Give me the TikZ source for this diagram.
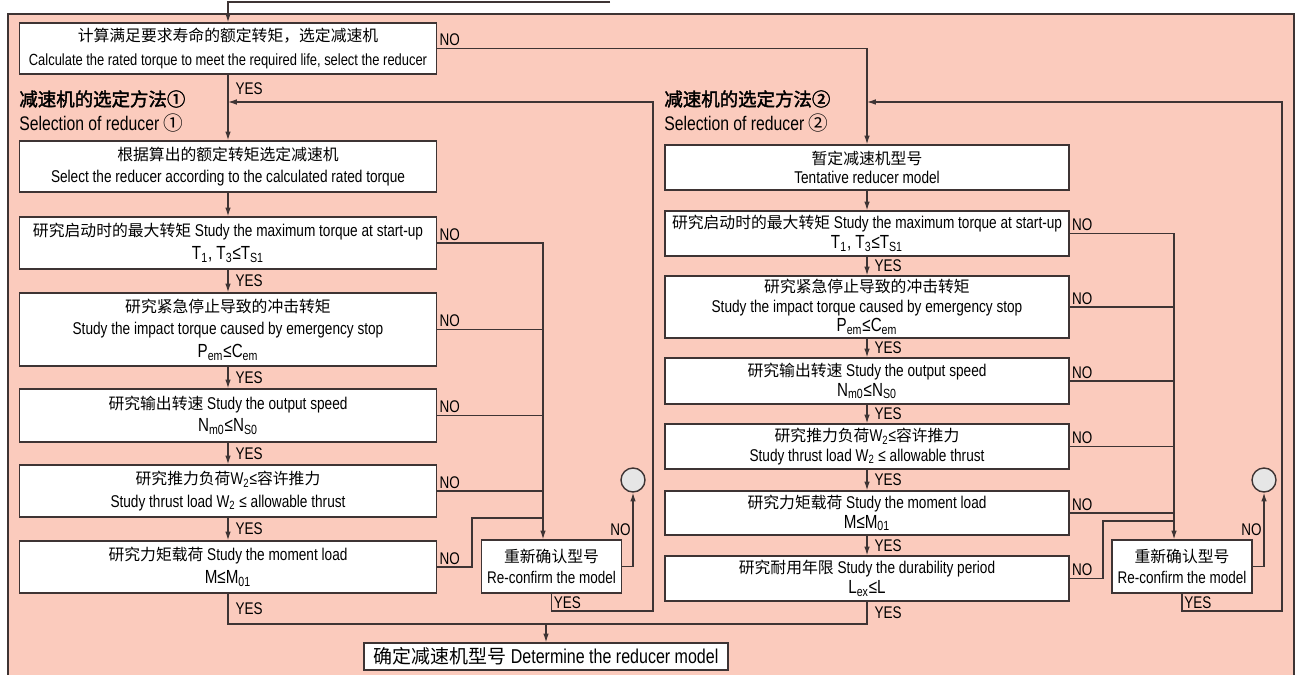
\documentclass[tikz,border=0pt]{standalone}
\usepackage{fontspec}
\setmainfont{Liberation Sans}[FakeStretch=0.8]
\newfontfamily\zhfont{Noto Sans CJK SC}
\newfontfamily\zhbold{Noto Sans CJK SC}[FakeBold=2]
\usetikzlibrary{arrows.meta}
\definecolor{bgpink}{RGB}{251,203,189}
\definecolor{linec}{RGB}{62,52,52}
\definecolor{dotgray}{RGB}{230,230,230}
\newcommand{\zh}[1]{{\zhfont\fontsize{9}{12}\selectfont #1}}
\newcommand{\fml}[1]{{\fontsize{10.8}{12}\selectfont #1}}

\begin{document}
\begin{tikzpicture}[x=0.02cm, y=-0.02cm, >={Latex[length=5pt,width=3.2pt]},
    every node/.style={text=black},
    lbox/.style={draw=linec, fill=white, line width=0.8pt, minimum width=8.34cm, align=center, inner sep=0pt, font=\fontsize{9.7}{12.8}\selectfont},
    rbox/.style={draw=linec, fill=white, line width=0.8pt, minimum width=8.08cm, align=center, inner sep=0pt, font=\fontsize{9.7}{11.2}\selectfont},
    chkbox/.style={draw=linec, fill=white, line width=0.8pt, minimum width=2.8cm, minimum height=1.06cm, align=center, inner sep=0pt, font=\fontsize{9.6}{11.5}\selectfont},
    yn/.style={font=\fontsize{9.6}{10}\selectfont, inner sep=1pt},
    flow/.style={draw=linec, line width=0.7pt}]
    \useasboundingbox (0,0) rectangle (1300,675);

    % frame
    \draw[linec, line width=0.8pt, fill=bgpink] (8,14) rectangle (1294,680);

    % first check
    \node[lbox, minimum height=1.02cm, font=\fontsize{9.2}{14}\selectfont] (l0) at (228,48.5) {\zh{计算满足要求寿命的额定转矩，选定减速机}\\Calculate the rated torque to meet the required life, select the reducer};
    \coordinate (top0) at (610,2);
    \draw[flow,->] (top0) -| (l0.north);

    % titles
    \node[anchor=west, inner sep=0pt, font=\fontsize{10.5}{13}\selectfont\zhbold] (t1) at (19,99) {减速机的选定方法①};
    \node[anchor=west, inner sep=0pt, font=\fontsize{11.2}{12}\selectfont] (s1) at (19,123) {Selection of reducer {\zhfont ①}};
    \node[anchor=west, inner sep=0pt, font=\fontsize{10.5}{13}\selectfont\zhbold] (t2) at (664,99) {减速机的选定方法②};
    \node[anchor=west, inner sep=0pt, font=\fontsize{11.2}{12}\selectfont] (s2) at (664,123) {Selection of reducer {\zhfont ②}};

    % Selection 1
    \node[lbox, minimum height=1.02cm] (l1) at (228,166.5) {\zh{根据算出的额定转矩选定减速机}\\Select the reducer according to the calculated rated torque};
    \node[lbox, minimum height=1.04cm] (l2) at (228,243) {\zh{研究启动时的最大转矩} Study the maximum torque at start-up\\\fml{T\textsubscript{1}, T\textsubscript{3}≤T\textsubscript{S1}}};
    \node[lbox, minimum height=1.46cm] (l3) at (228,329.5) {\zh{研究紧急停止导致的冲击转矩}\\Study the impact torque caused by emergency stop\\\fml{P\textsubscript{em}≤C\textsubscript{em}}};
    \node[lbox, minimum height=1.06cm] (l4) at (228,415.5) {\zh{研究输出转速} Study the output speed\\\fml{N\textsubscript{m0}≤N\textsubscript{S0}}};
    \node[lbox, minimum height=1.04cm] (l5) at (228,491) {\zh{研究推力负荷}W\textsubscript{2}≤\zh{容许推力}\\Study thrust load W\textsubscript{2} ≤ allowable thrust};
    \node[lbox, minimum height=1.04cm] (l6) at (228,567) {\zh{研究力矩载荷} Study the moment load\\\fml{M≤M\textsubscript{01}}};
    \node[chkbox] (lc) at (551.5,566.5) {\zh{重新确认型号}\\Re-confirm the model};
    \node[circle, draw=linec, line width=0.8pt, fill=dotgray, minimum size=0.48cm, inner sep=0pt] (lcirc) at (633,480) {};

    \draw[flow,->] (l0.south) -- node[yn, right=3pt, pos=0.21] (y0) {YES} (l1.north);
    \draw[flow,->] (l1.south) -- (l2.north);
    \draw[flow,->] (l2.south) -- node[yn, right=3pt] (y2) {YES} (l3.north);
    \draw[flow,->] (l3.south) -- node[yn, right=3pt] (y3) {YES} (l4.north);
    \draw[flow,->] (l4.south) -- node[yn, right=3pt] (y4) {YES} (l5.north);
    \draw[flow,->] (l5.south) -- node[yn, right=3pt] (y5) {YES} (l6.north);

    % NO to re-confirm
    \coordinate (lbus) at (543,243);
    \coordinate (ljog) at (472,518);
    \draw[flow,->] (l2.east) node[yn, above right] (n2) {NO} -- (lbus) -- (lbus |- lc.north);
    \draw[flow] (l3.east) node[yn, above right] (n3) {NO} -- (l3.east -| lbus);
    \draw[flow] (l4.east) node[yn, above right] (n4) {NO} -- (l4.east -| lbus);
    \draw[flow] (l5.east) node[yn, above right] (n5) {NO} -- (l5.east -| lbus);
    \draw[flow] (l6.east) node[yn, above right] (n6) {NO} -| (ljog) -- (ljog -| lbus);
    \draw[flow,->] (lc.east) -| node[yn, left, pos=0.75] (nc1) {NO} (lcirc.south);

    % back to the top
    \coordinate (lret) at (653,611);
    \coordinate (lin) at (228,102);
    \draw[flow,->] (lc.south) |- node[yn, right, pos=0.25] (yc1) {YES} (lret) |- (lin);

    % Selection 2
    \node[rbox, minimum height=0.9cm] (r1) at (867,167.5) {\zh{暂定减速机型号}\\Tentative reducer model};
    \node[rbox, minimum height=0.9cm] (r2) at (867,233.5) {\zh{研究启动时的最大转矩} Study the maximum torque at start-up\\\fml{T\textsubscript{1}, T\textsubscript{3}≤T\textsubscript{S1}}};
    \node[rbox, minimum height=1.24cm] (r3) at (867,307) {\zh{研究紧急停止导致的冲击转矩}\\Study the impact torque caused by emergency stop\\\fml{P\textsubscript{em}≤C\textsubscript{em}}};
    \node[rbox, minimum height=0.92cm] (r4) at (867,381) {\zh{研究输出转速} Study the output speed\\\fml{N\textsubscript{m0}≤N\textsubscript{S0}}};
    \node[rbox, minimum height=0.9cm] (r5) at (867,446.5) {\zh{研究推力负荷}W\textsubscript{2}≤\zh{容许推力}\\Study thrust load W\textsubscript{2} ≤ allowable thrust};
    \node[rbox, minimum height=0.88cm] (r6) at (867,513) {\zh{研究力矩载荷} Study the moment load\\\fml{M≤M\textsubscript{01}}};
    \node[rbox, minimum height=0.9cm] (r7) at (867,578.5) {\zh{研究耐用年限} Study the durability period\\\fml{L\textsubscript{ex}≤L}};
    \node[chkbox] (rc) at (1182,566.5) {\zh{重新确认型号}\\Re-confirm the model};
    \node[circle, draw=linec, line width=0.8pt, fill=dotgray, minimum size=0.48cm, inner sep=0pt] (rcirc) at (1264,480) {};

    \draw[flow,->] (l0.east) node[yn, above right] (n0) {NO} -| (r1.north);
    \draw[flow,->] (r1.south) -- (r2.north);
    \draw[flow,->] (r2.south) -- node[yn, right=3pt] (z2) {YES} (r3.north);
    \draw[flow,->] (r3.south) -- node[yn, right=3pt] (z3) {YES} (r4.north);
    \draw[flow,->] (r4.south) -- node[yn, right=3pt] (z4) {YES} (r5.north);
    \draw[flow,->] (r5.south) -- node[yn, right=3pt] (z5) {YES} (r6.north);
    \draw[flow,->] (r6.south) -- node[yn, right=3pt] (z6) {YES} (r7.north);

    \coordinate (rbus) at (1174,233.5);
    \coordinate (rjog) at (1103,521);
    \draw[flow,->] (r2.east) node[yn, above right] (m2) {NO} -- (rbus) -- (rbus |- rc.north);
    \draw[flow] (r3.east) node[yn, above right] (m3) {NO} -- (r3.east -| rbus);
    \draw[flow] (r4.east) node[yn, above right] (m4) {NO} -- (r4.east -| rbus);
    \draw[flow] (r5.east) node[yn, above right] (m5) {NO} -- (r5.east -| rbus);
    \draw[flow] (r6.east) node[yn, above right] (m6) {NO} -- (r6.east -| rbus);
    \draw[flow] (r7.east) node[yn, above right] (m7) {NO} -| (rjog) -- (rjog -| rbus);
    \draw[flow,->] (rc.east) -| node[yn, left, pos=0.75] (nc2) {NO} (rcirc.south);

    \coordinate (rret) at (1282,611);
    \coordinate (rin) at (867,102);
    \draw[flow,->] (rc.south) |- node[yn, right, pos=0.25] (yc2) {YES} (rret) |- (rin);

    % Determine
    \node[draw=linec, fill=white, line width=0.8pt, minimum width=7.28cm, minimum height=0.54cm, inner sep=0pt, font=\fontsize{11.4}{13}\selectfont] (fin) at (546,656.5) {{\zhfont\fontsize{10.8}{13}\selectfont 确定减速机型号} Determine the reducer model};
    \coordinate (mj) at (546,624);
    \draw[flow] (l6.south) |- node[yn, right=3pt, pos=0.25] (y6) {YES} (r7.south |- mj) -- node[yn, right=3pt] (z7) {YES} (r7.south);
    \draw[flow,->] (mj) -- (fin.north);
\end{tikzpicture}
\end{document}
